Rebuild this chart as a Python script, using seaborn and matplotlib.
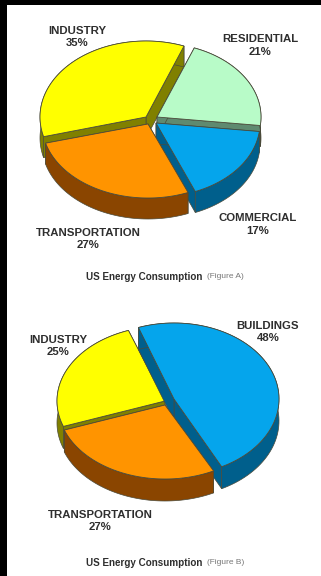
import numpy as np
import matplotlib
matplotlib.use("Agg")
import matplotlib.pyplot as plt
from matplotlib.patches import Polygon, Rectangle
import seaborn as sns

sns.set_theme(style="white")
plt.rcParams["font.family"] = ["Liberation Sans", "DejaVu Sans"]

# Figure A shares
a_labels = ["INDUSTRY", "TRANSPORTATION", "COMMERCIAL", "RESIDENTIAL"]
a_values = [35, 27, 17, 21]
a_faces = ["#ffff00", "#ff9400", "#05a5ec", "#b8fbc8"]
a_walls = ["#808000", "#8a4500", "#005f8c", "#5f8a70"]

# Figure B shares
b_labels = ["BUILDINGS", "INDUSTRY", "TRANSPORTATION"]
b_values = [48, 25, 27]
b_faces = ["#05a5ec", "#ffff00", "#ff9400"]
b_walls = ["#005f8c", "#808000", "#8a4500"]

W, H = 321, 576
fig = plt.figure(figsize=(W / 100, H / 100), dpi=100, facecolor="black")
ax = fig.add_axes([0, 0, 1, 1])
ax.set_xlim(0, W)
ax.set_ylim(H, 0)
ax.axis("off")
ax.add_patch(Rectangle((7, 5), W - 7, H - 5, fc="white", ec="none", zorder=0))

EDGE = "#4a4a3a"


def ring(apex, t0, t1, rx, ry):
    t = np.radians(np.linspace(t0, t1, 80))
    return np.column_stack([apex[0] + rx * np.cos(t), apex[1] - ry * np.sin(t)])


def draw_slice(apex, t0, t1, face, wall, rx, ry, depth):
    """One extruded wedge: cut walls and rim first, then the top face."""
    arc = ring(apex, t0, t1, rx, ry)
    down = np.array([0, depth])
    apex = np.asarray(apex, dtype=float)
    for a, b in [(apex, arc[0]), (apex, arc[-1])]:
        quad = np.array([a, b, b + down, a + down])
        ax.add_patch(Polygon(quad, fc=wall, ec=EDGE, lw=0.5, zorder=1))
    rim = np.vstack([arc, (arc + down)[::-1]])
    ax.add_patch(Polygon(rim, fc=wall, ec=EDGE, lw=0.5, zorder=1))
    top = np.vstack([apex, arc])
    ax.add_patch(Polygon(top, fc=face, ec=EDGE, lw=0.6, zorder=1))


def draw_pie(values, faces, walls, start, apexes, order, radii, depth):
    spans = np.asarray(values) * 3.6
    edges = start + np.concatenate([[0], np.cumsum(spans)])
    for i in order:
        rx, ry = radii[i]
        draw_slice(apexes[i], edges[i], edges[i + 1], faces[i], walls[i], rx, ry, depth)


# Slices are painted from the back of the pie to the front
draw_pie(a_values, a_faces, a_walls, 69,
         [(146, 117), (148, 124), (156, 123), (157, 117)],
         [0, 3, 2, 1], [(106, 76), (106, 74), (104, 74), (104, 74)], 21)
draw_pie(b_values, b_faces, b_walls, -63,
         [(174, 399), (165, 401), (165, 405)],
         [1, 0, 2], [(105, 76), (108, 75), (107, 74)], 22)


def label(x, y, name, value):
    ax.text(x, y, f"{name}\n{value}%", ha="center", va="center", fontsize=8.2,
            fontweight="bold", color="#2e2e2e", linespacing=1.35, zorder=3)


label(77, 37, a_labels[0], a_values[0])
label(88, 239, a_labels[1], a_values[1])
label(258, 224.5, a_labels[2], a_values[2])
label(260, 45.5, a_labels[3], a_values[3])
label(268, 332, b_labels[0], b_values[0])
label(58, 346, b_labels[1], b_values[1])
label(100, 521, b_labels[2], b_values[2])


def caption(y, text):
    ax.text(202, y, "US Energy Consumption", ha="right", va="center", fontsize=7.1,
            fontweight="bold", color="#2e2e2e", zorder=3)
    ax.text(207, y, text, ha="left", va="center", fontsize=6, color="#777777", zorder=3)


caption(277, "(Figure A)")
caption(563, "(Figure B)")

fig.savefig("out.png", dpi=100, facecolor="black")
